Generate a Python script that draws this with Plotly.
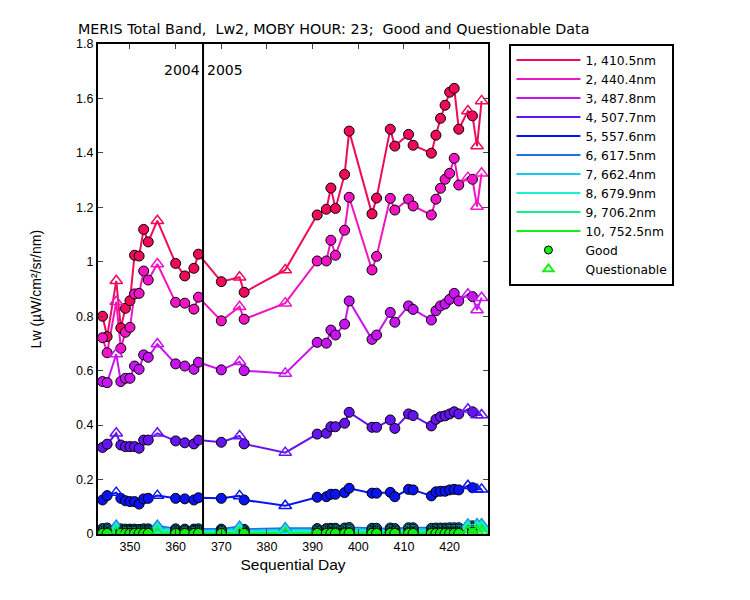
import plotly.graph_objects as go

days = [344, 345, 347, 348, 349, 350, 351, 352, 353, 354, 356, 360, 362, 364, 365,
        370, 374, 375, 384,
        391, 393, 394, 395, 397, 398, 403, 404, 407, 408, 411, 412, 416, 417, 418, 419,
        420, 421, 422, 424, 425, 426, 427]
questionable_days = [347, 356, 374, 384, 424, 426, 427]

band_names = ["1, 410.5nm", "2, 440.4nm", "3, 487.8nm", "4, 507.7nm", "5, 557.6nm",
              "6, 617.5nm", "7, 662.4nm", "8, 679.9nm", "9, 706.2nm", "10, 752.5nm"]
band_colors = ["#F00A5A", "#F014C3", "#C814F0", "#6414F0", "#0A14F0",
               "#1E73E6", "#14C8F0", "#1EF0D2", "#14F08C", "#14F014"]

lw1 = [0.800, 0.725, 0.930, 0.757, 0.829, 0.857, 1.024, 1.021, 1.119, 1.073, 1.151, 0.994, 0.948, 0.976, 1.028,
       0.927, 0.943, 0.888, 0.970,
       1.172, 1.193, 1.271, 1.196, 1.321, 1.480, 1.176, 1.234, 1.487, 1.425, 1.468, 1.428, 1.399, 1.465, 1.527, 1.575,
       1.623, 1.637, 1.487, 1.554, 1.536, 1.425, 1.591]
lw2 = [0.721, 0.666, 0.853, 0.682, 0.741, 0.759, 0.882, 0.884, 0.966, 0.933, 0.992, 0.851, 0.848, 0.826, 0.870,
       0.783, 0.835, 0.789, 0.848,
       1.003, 1.003, 1.079, 1.024, 1.116, 1.237, 0.970, 1.020, 1.233, 1.190, 1.230, 1.205, 1.172, 1.230, 1.270, 1.303,
       1.325, 1.380, 1.282, 1.309, 1.303, 1.203, 1.325]
lw3 = [0.560, 0.556, 0.661, 0.560, 0.572, 0.572, 0.617, 0.605, 0.658, 0.649, 0.698, 0.625, 0.617, 0.605, 0.631,
       0.603, 0.633, 0.600, 0.590,
       0.704, 0.701, 0.749, 0.731, 0.771, 0.856, 0.715, 0.731, 0.814, 0.778, 0.838, 0.825, 0.786, 0.820, 0.838, 0.845,
       0.862, 0.884, 0.856, 0.881, 0.872, 0.823, 0.868]
lw4 = [0.318, 0.330, 0.370, 0.327, 0.321, 0.321, 0.321, 0.315, 0.345, 0.345, 0.370, 0.342, 0.335, 0.331, 0.345,
       0.337, 0.360, 0.331, 0.299,
       0.367, 0.370, 0.394, 0.394, 0.407, 0.447, 0.392, 0.392, 0.419, 0.388, 0.441, 0.435, 0.397, 0.421, 0.431, 0.434,
       0.441, 0.449, 0.441, 0.458, 0.449, 0.437, 0.437]
lw5 = [0.125, 0.141, 0.152, 0.131, 0.122, 0.119, 0.119, 0.110, 0.129, 0.131, 0.141, 0.131, 0.129, 0.125, 0.133,
       0.131, 0.140, 0.125, 0.104,
       0.135, 0.137, 0.146, 0.146, 0.152, 0.168, 0.150, 0.150, 0.153, 0.137, 0.164, 0.162, 0.140, 0.155, 0.157, 0.157,
       0.162, 0.164, 0.162, 0.177, 0.170, 0.164, 0.164]
lw6 = [0.020, 0.022, 0.030, 0.019, 0.018, 0.018, 0.018, 0.017, 0.019, 0.019, 0.030, 0.019, 0.018, 0.018, 0.019,
       0.018, 0.027, 0.017, 0.021,
       0.020, 0.020, 0.021, 0.021, 0.022, 0.024, 0.021, 0.021, 0.022, 0.020, 0.023, 0.023, 0.021, 0.022, 0.022, 0.022,
       0.023, 0.023, 0.023, 0.035, 0.030, 0.036, 0.036]
lw7 = [0.015, 0.016, 0.024, 0.014, 0.013, 0.013, 0.013, 0.012, 0.014, 0.014, 0.024, 0.014, 0.013, 0.013, 0.014,
       0.013, 0.021, 0.012, 0.016,
       0.015, 0.015, 0.016, 0.016, 0.016, 0.018, 0.015, 0.015, 0.016, 0.015, 0.017, 0.017, 0.015, 0.016, 0.016, 0.016,
       0.017, 0.017, 0.017, 0.030, 0.025, 0.031, 0.031]
lw8 = [0.010, 0.011, 0.018, 0.009, 0.009, 0.009, 0.009, 0.008, 0.009, 0.009, 0.018, 0.009, 0.009, 0.009, 0.009,
       0.009, 0.015, 0.008, 0.011,
       0.010, 0.010, 0.011, 0.011, 0.011, 0.012, 0.010, 0.010, 0.011, 0.010, 0.011, 0.011, 0.010, 0.011, 0.011, 0.011,
       0.011, 0.011, 0.011, 0.025, 0.020, 0.026, 0.026]
lw9 = [0.005, 0.006, 0.010, 0.005, 0.004, 0.004, 0.004, 0.004, 0.005, 0.005, 0.010, 0.005, 0.004, 0.004, 0.005,
       0.004, 0.008, 0.004, 0.006,
       0.005, 0.005, 0.006, 0.006, 0.006, 0.006, 0.005, 0.005, 0.006, 0.005, 0.006, 0.006, 0.005, 0.006, 0.006, 0.006,
       0.006, 0.006, 0.006, 0.018, 0.012, 0.019, 0.019]
lw10 = [0.002, 0.002, 0.004, 0.002, 0.002, 0.002, 0.002, 0.002, 0.002, 0.002, 0.004, 0.002, 0.002, 0.002, 0.002,
        0.002, 0.004, 0.002, 0.003,
        0.002, 0.002, 0.002, 0.002, 0.002, 0.003, 0.002, 0.002, 0.002, 0.002, 0.002, 0.002, 0.002, 0.002, 0.002, 0.002,
        0.002, 0.002, 0.002, 0.008, 0.006, 0.009, 0.009]

series = [lw1, lw2, lw3, lw4, lw5, lw6, lw7, lw8, lw9, lw10]

x_ticks = [350, 360, 370, 380, 390, 400, 410, 420]
y_ticks = [0, 0.2, 0.4, 0.6, 0.8, 1.0, 1.2, 1.4, 1.6, 1.8]
y_tick_text = ["0", "0.2", "0.4", "0.6", "0.8", "1", "1.2", "1.4", "1.6", "1.8"]
year_break = 366

FONT = "Liberation Sans, Arial, sans-serif"
WIDE = "DejaVu Sans, sans-serif"

fig = go.Figure()

for name, col, vals in zip(band_names, band_colors, series):
    fig.add_trace(go.Scatter(x=days, y=vals, mode="lines", name=name,
                             line=dict(color=col, width=2), showlegend=True))

for name, col, vals in zip(band_names, band_colors, series):
    gx = [d for d in days if d not in questionable_days]
    gy = [v for d, v in zip(days, vals) if d not in questionable_days]
    qx = [d for d in days if d in questionable_days]
    qy = [v for d, v in zip(days, vals) if d in questionable_days]
    fig.add_trace(go.Scatter(x=gx, y=gy, mode="markers", showlegend=False,
                             marker=dict(symbol="circle", size=10, color=col,
                                         line=dict(color="black", width=1))))
    fig.add_trace(go.Scatter(x=qx, y=qy, mode="markers", showlegend=False,
                             marker=dict(symbol="triangle-up-open", size=11, color=col,
                                         line=dict(color=col, width=1.5))))

fig.add_trace(go.Scatter(x=[None], y=[None], mode="markers", name="Good",
                         marker=dict(symbol="circle", size=8, color="#14F014",
                                     line=dict(color="black", width=1))))
fig.add_trace(go.Scatter(x=[None], y=[None], mode="markers", name="Questionable",
                         marker=dict(symbol="triangle-up-open", size=9, color="#14F014",
                                     line=dict(color="#14F014", width=2))))

fig.add_shape(type="line", xref="x", yref="paper", x0=year_break, x1=year_break,
              y0=0, y1=1, line=dict(color="black", width=2))
fig.add_annotation(x=year_break, y=1.705, xref="x", yref="y", text="2004",
                   showarrow=False, xanchor="right", xshift=-1,
                   font=dict(family=WIDE, size=14, color="black"))
fig.add_annotation(x=year_break, y=1.705, xref="x", yref="y", text="2005",
                   showarrow=False, xanchor="left", xshift=2,
                   font=dict(family=WIDE, size=14, color="black"))

fig.add_annotation(x=-0.056, y=1.03, xref="paper", yref="paper",
                   text="MERIS Total Band,  Lw2, MOBY HOUR: 23;  Good and Questionable Data",
                   showarrow=False, xanchor="left", yanchor="middle",
                   font=dict(family=WIDE, size=14.3, color="black"))

fig.add_annotation(x=-0.158, y=0.5, xref="paper", yref="paper",
                   text="Lw (µW/cm²/sr/nm)", textangle=-90,
                   showarrow=False, xanchor="center", yanchor="middle",
                   font=dict(family=FONT, size=14, color="black"))

fig.update_layout(
    width=750, height=600,
    margin=dict(l=90, r=270, t=36, b=74),
    paper_bgcolor="white", plot_bgcolor="white",
    font=dict(family=FONT, size=12, color="black"),
    showlegend=True,
    legend=dict(x=1.055, y=1.001, xanchor="left", yanchor="top",
                bordercolor="black", borderwidth=2, bgcolor="white",
                font=dict(family=WIDE, size=12.3, color="black"),
                itemwidth=64, tracegroupgap=0),
    xaxis=dict(range=[343, 428.4], tickvals=x_ticks, ticks="inside", ticklen=5,
               showline=True, linecolor="black", linewidth=2, mirror="ticks",
               showgrid=False, zeroline=False,
               tickfont=dict(family=FONT, size=12.5),
               title=dict(text="Sequential Day", font=dict(family=FONT, size=15.5), standoff=6)),
    yaxis=dict(range=[0, 1.8], tickvals=y_ticks, ticktext=y_tick_text, ticks="inside", ticklen=5,
               showline=True, linecolor="black", linewidth=2, mirror="ticks",
               showgrid=False, zeroline=False,
               tickfont=dict(family=FONT, size=12.5)),
)

fig.write_html("out.html")
